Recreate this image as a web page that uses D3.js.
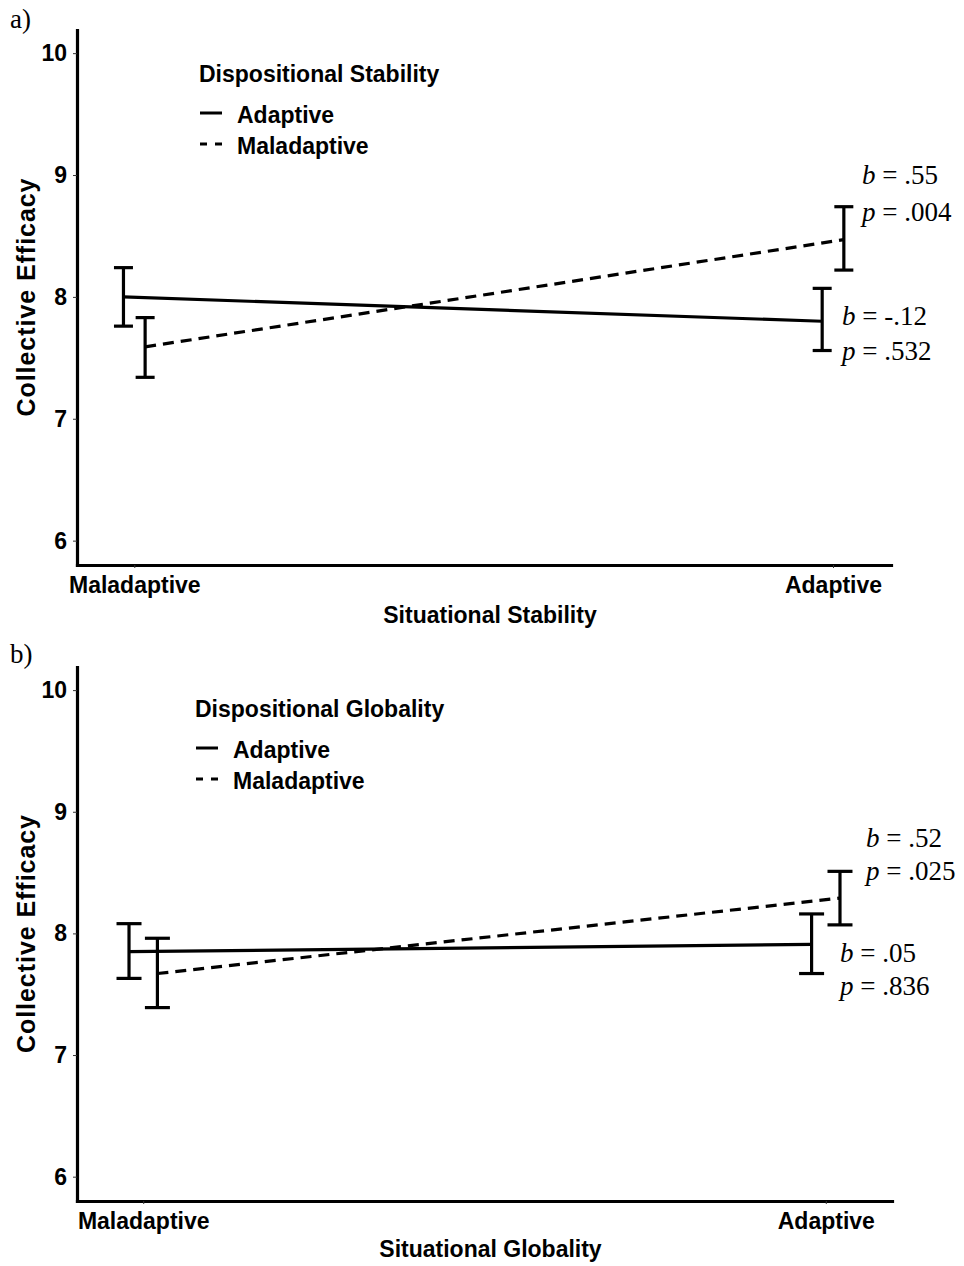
<!DOCTYPE html>
<html>
<head>
<meta charset="utf-8">
<script src="https://cdn.jsdelivr.net/npm/d3@7"></script>
<style>
    body { margin: 0; background: #fff; }
    svg { display: block; }
</style>
</head>
<body>
<svg width="964" height="1266"></svg>
<script>
"use strict";

// Legend groups (dispositional) and x categories (situational)
var groups = ["Adaptive", "Maladaptive"];
var situations = ["Maladaptive", "Adaptive"];
var yTicks = [6, 7, 8, 9, 10];

// Panel a - stability: mean, lower and upper bound per situation
var stabAdaptiveMean    = [8.00, 7.80];
var stabAdaptiveLow     = [7.76, 7.56];
var stabAdaptiveHigh    = [8.24, 8.07];
var stabMaladaptiveMean = [7.59, 8.47];
var stabMaladaptiveLow  = [7.34, 8.22];
var stabMaladaptiveHigh = [7.83, 8.74];
var stabNotes = [["b = -.12", "p = .532"], ["b = .55", "p = .004"]];

// Panel b - globality
var globAdaptiveMean    = [7.85, 7.91];
var globAdaptiveLow     = [7.63, 7.67];
var globAdaptiveHigh    = [8.08, 8.16];
var globMaladaptiveMean = [7.67, 8.29];
var globMaladaptiveLow  = [7.39, 8.07];
var globMaladaptiveHigh = [7.96, 8.51];
var globNotes = [["b = .05", "p = .836"], ["b = .52", "p = .025"]];

var sans = "'Liberation Sans', Arial, sans-serif";
var serif = "'Liberation Serif', 'Times New Roman', serif";

var svg = d3.select("svg");
svg.append("rect").attr("width", 964).attr("height", 1266).attr("fill", "#fff");

var drawPanel = function(p) {

    var g = svg.append("g");

    var x = d3.scaleLinear()
        .domain(p.xDomain)
        .range([p.left, p.right]);

    var y = d3.scaleLinear()
        .domain([5.8, 10.19])
        .range([p.bottom, p.top]);

    // Y axis
    var yAxis = g.append("g")
        .attr("transform", "translate(" + p.left + ",0)")
        .call(d3.axisLeft(y).tickValues(yTicks).tickFormat(d3.format("d"))
            .tickSize(4).tickSizeOuter(0).tickPadding(6));

    // X axis
    var xAxis = g.append("g")
        .attr("transform", "translate(0," + p.bottom + ")")
        .call(d3.axisBottom(x).tickValues([1, 2])
            .tickFormat(function(d, i) { return situations[i]; })
            .tickSize(3).tickSizeOuter(0).tickPadding(9));

    [yAxis, xAxis].forEach(function(a) {
        a.select(".domain")
            .attr("stroke", "#000")
            .attr("stroke-width", 3.2)
            .attr("stroke-linecap", "square");
        a.selectAll(".tick line").attr("stroke", "#333").attr("stroke-width", 1);
        a.selectAll(".tick text")
            .attr("fill", "#000")
            .style("font-family", sans)
            .style("font-weight", "bold");
    });
    yAxis.selectAll(".tick text").style("font-size", "23px");
    xAxis.selectAll(".tick text").style("font-size", "23px");

    // Axis titles
    g.append("text")
        .attr("x", (p.left + p.right) / 2 + 6)
        .attr("y", p.xTitleY)
        .attr("text-anchor", "middle")
        .style("font-family", sans)
        .style("font-weight", "bold")
        .style("font-size", "23px")
        .text(p.xTitle);

    g.append("text")
        .attr("transform", "translate(35," + (p.top + p.bottom) / 2 + ") rotate(-90)")
        .attr("text-anchor", "middle")
        .attr("textLength", 238)
        .attr("lengthAdjust", "spacing")
        .style("font-family", sans)
        .style("font-weight", "bold")
        .style("font-size", "25px")
        .text("Collective Efficacy");

    // Panel label
    g.append("text")
        .attr("x", 10)
        .attr("y", p.labelY)
        .style("font-family", serif)
        .style("font-size", "27px")
        .text(p.label);

    // Series
    var line = d3.line()
        .x(function(d) { return x(d.x); })
        .y(function(d) { return y(d.m); });

    p.series.forEach(function(s, gi) {
        var shift = gi === 0 ? -p.dodge : p.dodge;
        var pts = situations.map(function(c, i) {
            return { x: i + 1 + shift, m: s.mean[i], lo: s.low[i], hi: s.high[i] };
        });

        g.append("path")
            .datum(pts)
            .attr("d", line)
            .attr("fill", "none")
            .attr("stroke", "#000")
            .attr("stroke-width", 3.2)
            .attr("stroke-dasharray", gi === 0 ? null : "11,7");

        var bars = g.append("g").selectAll("g")
            .data(pts)
            .enter().append("g")
            .attr("stroke", "#000")
            .attr("stroke-width", 3.2);

        bars.append("line")
            .attr("x1", function(d) { return x(d.x); })
            .attr("x2", function(d) { return x(d.x); })
            .attr("y1", function(d) { return y(d.lo); })
            .attr("y2", function(d) { return y(d.hi); });

        ["lo", "hi"].forEach(function(k) {
            bars.append("line")
                .attr("x1", function(d) { return x(d.x) - p.cap / 2; })
                .attr("x2", function(d) { return x(d.x) + p.cap / 2; })
                .attr("y1", function(d) { return y(d[k]); })
                .attr("y2", function(d) { return y(d[k]); });
        });

        // b / p notes
        var pos = p.notePos[gi];
        p.notes[gi].forEach(function(str, li) {
            var t = g.append("text")
                .attr("x", pos[0])
                .attr("y", pos[1] + li * pos[2])
                .style("font-family", serif)
                .style("font-size", "27px");
            t.append("tspan").style("font-style", "italic").text(str.charAt(0));
            t.append("tspan").text(str.slice(1));
        });
    });

    // Legend
    var lg = g.append("g").attr("transform", "translate(" + p.legend[0] + "," + p.legend[1] + ")");
    lg.append("text")
        .style("font-family", sans)
        .style("font-weight", "bold")
        .style("font-size", "23px")
        .text(p.legendTitle);

    groups.forEach(function(name, gi) {
        var yy = 41 + gi * 31;
        lg.append("line")
            .attr("x1", 1)
            .attr("x2", 23)
            .attr("y1", yy - 10)
            .attr("y2", yy - 10)
            .attr("stroke", "#000")
            .attr("stroke-width", 3)
            .attr("stroke-dasharray", gi === 0 ? null : "7,8");
        lg.append("text")
            .attr("x", 38)
            .attr("y", yy)
            .style("font-family", sans)
            .style("font-weight", "bold")
            .style("font-size", "23px")
            .text(name);
    });
};

drawPanel({
    label: "a)", labelY: 28,
    top: 30, bottom: 565, left: 77, right: 891,
    xDomain: [0.918, 2.083], dodge: 0.0155, cap: 19,
    xTitle: "Situational Stability", xTitleY: 623,
    legendTitle: "Dispositional Stability", legend: [199, 82],
    series: [
        { mean: stabAdaptiveMean, low: stabAdaptiveLow, high: stabAdaptiveHigh },
        { mean: stabMaladaptiveMean, low: stabMaladaptiveLow, high: stabMaladaptiveHigh }
    ],
    notes: stabNotes,
    notePos: [[842, 325, 35], [862, 184, 37]]
});

drawPanel({
    label: "b)", labelY: 663,
    top: 667, bottom: 1201, left: 77, right: 892,
    xDomain: [0.903, 2.097], dodge: 0.0208, cap: 25,
    xTitle: "Situational Globality", xTitleY: 1257,
    legendTitle: "Dispositional Globality", legend: [195, 717],
    series: [
        { mean: globAdaptiveMean, low: globAdaptiveLow, high: globAdaptiveHigh },
        { mean: globMaladaptiveMean, low: globMaladaptiveLow, high: globMaladaptiveHigh }
    ],
    notes: globNotes,
    notePos: [[840, 962, 33], [866, 847, 33]]
});
</script>
</body>
</html>
